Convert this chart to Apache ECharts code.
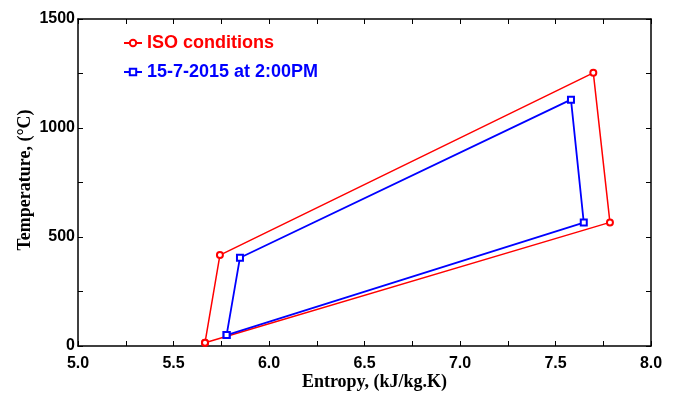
<!DOCTYPE html>
<html>
<head>
<meta charset="utf-8">
<script src="https://cdn.jsdelivr.net/npm/echarts@6/dist/echarts.min.js"></script>
<style>
html,body{margin:0;padding:0;background:#fff;}
#chart{width:675px;height:396px;}
</style>
</head>
<body>
<div id="chart"></div>
<script>
// cycle points (entropy, temperature), closed back to the first one
var isoEntropy = [5.665, 5.743, 7.698, 7.785, 5.665];
var isoTemp    = [15, 417, 1253, 567, 15];
var julEntropy = [5.778, 5.848, 7.581, 7.648, 5.778];
var julTemp    = [50, 405, 1130, 566, 50];
var seriesNames = ['ISO conditions', '15-7-2015 at 2:00PM'];

function pairs(xs, ys){
    return xs.map(function(x, i){ return [x, ys[i]] })
}

var tickFont = {fontFamily:'Liberation Sans', fontWeight:'bold', fontSize:16, color:'#000'};
var nameFont = {fontFamily:'Liberation Serif', fontWeight:'bold', fontSize:18, color:'#000'};
var line = {show:true, onZero:false, lineStyle:{color:'#000', width:1.5}};
var tick = {show:true, inside:true, length:5, lineStyle:{color:'#000', width:1}};
var minor = {show:true, splitNumber:2, length:5, lineStyle:{color:'#000', width:1}};

var myechart = echarts.init(document.getElementById('chart'));
myechart.setOption({
    animation:false,
    grid:{left:78, right:24, top:19, bottom:50},
    legend:{
        orient:'vertical',
        left:118, top:29,
        itemGap:11,
        itemWidth:18, itemHeight:8,
        data:[
            {name:seriesNames[0], textStyle:{color:'#ff0000'}},
            {name:seriesNames[1], textStyle:{color:'#0000ff'}}
        ],
        textStyle:{fontFamily:'Liberation Sans', fontWeight:'bold', fontSize:18}
    },
    xAxis:[{
        type:'value', min:5, max:8, interval:0.5,
        name:'Entropy, (kJ/kg.K)', nameLocation:'middle', nameGap:27, nameMoveOverlap:false,
        nameTextStyle:Object.assign({padding:[0,0,0,20]}, nameFont),
        axisLine:line, axisTick:tick, minorTick:minor, splitLine:{show:false},
        axisLabel:Object.assign({margin:10, formatter:function(v){ return v.toFixed(1) }}, tickFont)
    },{
        type:'value', position:'top', min:5, max:8, interval:0.5,
        axisLine:line, axisTick:tick, minorTick:minor, splitLine:{show:false},
        axisLabel:{show:false}
    }],
    yAxis:[{
        type:'value', min:0, max:1500, interval:500,
        name:'Temperature, (\u00B0C)', nameLocation:'middle', nameGap:44, nameMoveOverlap:false,
        nameTextStyle:Object.assign({padding:[0,0,0,5]}, nameFont),
        axisLine:line, axisTick:tick, minorTick:minor, splitLine:{show:false},
        axisLabel:Object.assign({margin:3, formatter:function(v){ return String(v) }}, tickFont)
    },{
        type:'value', position:'right', min:0, max:1500, interval:500,
        axisLine:line, axisTick:tick, minorTick:minor, splitLine:{show:false},
        axisLabel:{show:false}
    }],
    series:[{
        name:seriesNames[0], type:'line',
        data:pairs(isoEntropy, isoTemp),
        symbol:'emptyCircle', symbolSize:6,
        itemStyle:{color:'#ff0000'},
        lineStyle:{color:'#ff0000', width:1.5}
    },{
        name:seriesNames[1], type:'line',
        data:pairs(julEntropy, julTemp),
        symbol:'emptyRect', symbolSize:6,
        itemStyle:{color:'#0000ff'},
        lineStyle:{color:'#0000ff', width:1.8}
    }]
});
</script>
</body>
</html>
